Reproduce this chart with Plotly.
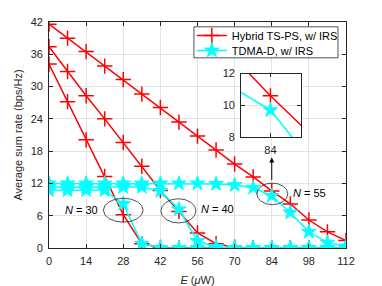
import plotly.graph_objects as go

# ---------------- data ----------------
E = [0, 7, 14, 21, 28, 35, 42, 49, 56, 63, 70, 77, 84, 91, 98, 105, 112]

hybrid_N55 = [41.6, 39.0, 36.5, 33.8, 31.3, 28.6, 26.1, 23.4, 20.8, 18.2, 15.6, 13.2, 10.6, 8.2, 5.2, 3.0, 1.4]
hybrid_N40 = [37.4, 32.8, 28.3, 24.0, 19.6, 15.2, 10.7, 6.8, 2.8, 0.8, 0.15, 0, 0, 0, 0, 0, 0]
hybrid_N30 = [34.2, 27.2, 20.1, 13.3, 6.2, 0.8, 0.1, 0, 0, 0, 0, 0, 0, 0, 0, 0, 0]

tdma_N55 = [12.0, 12.0, 12.0, 12.0, 12.0, 12.0, 12.0, 12.0, 12.0, 11.9, 11.7, 11.2, 9.7, 6.6, 3.0, 1.0, 0.3]
tdma_N40 = [11.35, 11.35, 11.35, 11.35, 11.35, 11.35, 10.6, 7.2, 1.3, 0.2, 0, 0, 0, 0, 0, 0, 0]
tdma_N30 = [10.75, 10.75, 10.75, 10.75, 8.2, 0.8, 0, 0, 0, 0, 0, 0, 0, 0, 0, 0, 0]

x_ticks = [0, 14, 28, 42, 56, 70, 84, 98, 112]
y_ticks = [0, 6, 12, 18, 24, 30, 36, 42]
inset_x_ticks = [84]
inset_y_ticks = [8, 10, 12]

legend_names = ["Hybrid TS-PS, w/ IRS", "TDMA-D, w/ IRS"]

RED = "#ff0000"
CYAN = "#00ffff"
AX = "#262626"
GRID = "#e3e3e3"
FONT = "Liberation Sans, Arial, sans-serif"

fig = go.Figure()

hyb_style = dict(mode="lines+markers", line=dict(color=RED, width=1.5),
                 marker=dict(symbol="cross-thin", size=11, color=RED,
                             line=dict(color=RED, width=1.5)))
tdma_style = dict(mode="lines+markers", line=dict(color=CYAN, width=1.5),
                  marker=dict(symbol="star", size=11, color=CYAN,
                              line=dict(color=CYAN, width=1)))

for i, ys in enumerate([hybrid_N55, hybrid_N40, hybrid_N30]):
    fig.add_trace(go.Scatter(x=E, y=ys, name=legend_names[0], legend="legend",
                             showlegend=(i == 0), **hyb_style))
for i, ys in enumerate([tdma_N55, tdma_N40, tdma_N30]):
    fig.add_trace(go.Scatter(x=E, y=ys, name=legend_names[1], legend="legend2",
                             showlegend=(i == 0), **tdma_style))

# inset
fig.add_trace(go.Scatter(x=E, y=hybrid_N55, xaxis="x2", yaxis="y2", showlegend=False,
                         **hyb_style))
fig.add_trace(go.Scatter(x=E, y=tdma_N55, xaxis="x2", yaxis="y2", showlegend=False,
                         **tdma_style))

axis_common = dict(showline=True, linecolor=AX, linewidth=0.8, mirror="ticks",
                   ticks="inside", ticklen=4, tickcolor=AX, tickwidth=0.8,
                   showgrid=True, gridcolor=GRID, gridwidth=0.8, zeroline=False,
                   tickfont=dict(family=FONT, size=11, color=AX))

leg_common = dict(xanchor="left", yanchor="middle", bgcolor="rgba(0,0,0,0)",
                  borderwidth=0, font=dict(family=FONT, size=11, color="#000000"),
                  itemwidth=30)

fig.update_layout(
    width=382, height=286,
    margin=dict(l=49, r=36, t=22, b=38, autoexpand=False),
    paper_bgcolor="white", plot_bgcolor="white",
    font=dict(family=FONT, size=11, color=AX),
    xaxis=dict(range=[0, 112], tickvals=x_ticks, ticklabelstandoff=3,
               title=dict(text="<i>E</i> (<i>μ</i>W)", standoff=10,
                          font=dict(family=FONT, size=11, color=AX)),
               **axis_common),
    yaxis=dict(range=[0, 42], tickvals=y_ticks, ticklabelstandoff=3,
               title=dict(text="Average sum rate (bps/Hz)", standoff=5,
                          font=dict(family=FONT, size=11, color=AX)),
               **axis_common),
    xaxis2=dict(domain=[0.6465, 0.8485], anchor="y2", range=[78.8, 89.4],
                tickvals=inset_x_ticks, ticklabelstandoff=3, **axis_common),
    yaxis2=dict(domain=[0.490, 0.772], anchor="x2", range=[8, 12],
                tickvals=inset_y_ticks, ticklabelstandoff=3, **axis_common),
    legend=dict(x=0.481, y=0.940, **leg_common),
    legend2=dict(x=0.481, y=0.874, **leg_common),
    showlegend=True,
)

# legend frame
fig.add_shape(type="rect", xref="paper", yref="paper", x0=0.488, x1=0.973,
              y0=0.8415, y1=0.9787, fillcolor="white", layer="above",
              line=dict(color=AX, width=0.8))

# ellipses marking groups
ell = dict(type="circle", xref="x", yref="y", line=dict(color=AX, width=0.8))
fig.add_shape(x0=20.5, x1=35.5, y0=4.8, y1=9.25, **ell)
fig.add_shape(x0=42.2, x1=55.4, y0=4.65, y1=9.15, **ell)
fig.add_shape(x0=78.35, x1=90.05, y0=8.06, y1=12.06, **ell)

ann_font = dict(family=FONT, size=11, color="#000000")
fig.add_annotation(x=12.3, y=7.1, text="<i>N</i> = 30", showarrow=False, font=ann_font)
fig.add_annotation(x=63.7, y=7.25, text="<i>N</i> = 40", showarrow=False, font=ann_font)
fig.add_annotation(x=98.3, y=10.3, text="<i>N</i> = 55", showarrow=False, font=ann_font)
fig.add_annotation(x=84, y=16.8, ax=0, ay=24, text="", showarrow=True,
                   arrowhead=2, arrowsize=1, arrowwidth=1, arrowcolor="#000000",
                   standoff=0, startstandoff=0)

fig.write_html("out.html", config={"displayModeBar": False},
               post_script="document.body.style.margin='0';")
